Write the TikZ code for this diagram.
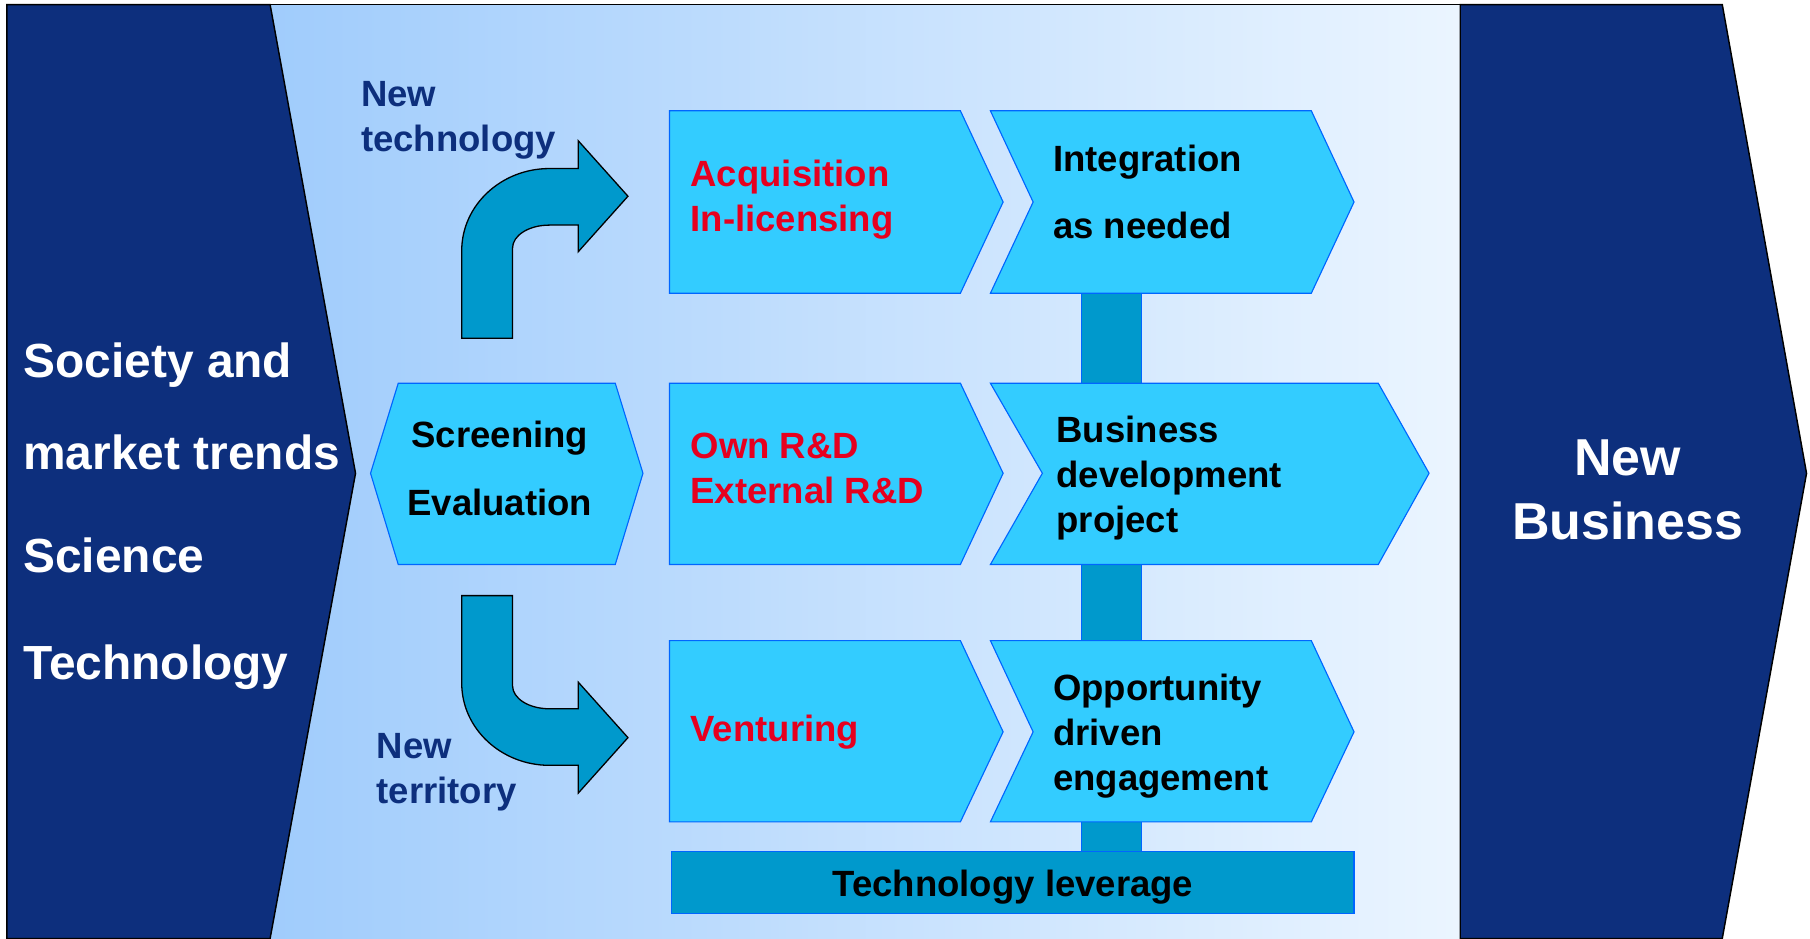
\documentclass[tikz,border=0pt]{standalone}
\usepackage{fontspec}
\setmainfont{Liberation Sans}
\definecolor{trendnavy}{RGB}{13, 47, 125}
\definecolor{stagecyan}{RGB}{51, 204, 255}
\definecolor{stageblue}{RGB}{0, 102, 255}
\definecolor{barcyan}{RGB}{0, 153, 204}
\definecolor{routered}{RGB}{230, 0, 30}
\definecolor{fadeleft}{RGB}{160, 204, 252}
\definecolor{faderight}{RGB}{235, 245, 255}
\usepackage{tikz}
\newcommand{\panelfont}{\fontsize{29.5}{56.2}\selectfont\bfseries}
\newcommand{\bizfont}{\fontsize{32}{39}\selectfont\bfseries}
\newcommand{\stagefont}{\fontsize{22.5}{27.6}\selectfont\bfseries}
\tikzset{
  panel/.style={draw=black, fill=trendnavy, line width=0.9pt},
  stagebox/.style={draw=stageblue, fill=stagecyan, line width=0.7pt},
  barbox/.style={draw=stageblue, fill=barcyan, line width=0.7pt},
  turnarrow/.style={draw=black, fill=barcyan, line width=0.8pt},
  stagetext/.style={font=\stagefont, anchor=base west, align=left, inner sep=0pt},
}

\begin{document}
\begin{tikzpicture}[x=0.025cm, y=-0.025cm]
  \useasboundingbox (0,0) rectangle (1568,812.6);

  % background band
  \shade[left color=fadeleft, right color=faderight] (234,4) rectangle (1265,813);
  \draw[line width=0.9pt] (6,4) -- (1265,4);

  % trend and business panels (text anchored on its last line)
  \draw[panel] (6,813) -- (6,4) -- (234,4) -- (308,410) -- (234,813) -- cycle;
  \draw[panel] (1265,813) -- (1265,4) -- (1492,4) -- (1565,410) -- (1492,813) -- cycle;
  \node[stagetext, font=\panelfont, text=white] (trends) at (20,589)
    {Society and\\market trends\\[7.5pt]Science\\[10pt]Technology};
  \node[font=\bizfont, text=white, anchor=base, align=center, inner sep=0pt] (newbiz) at (1410,467)
    {New\\Business};

  % spine and leverage bar
  \draw[barbox] (937,254) rectangle (989,738);
  \draw[barbox] (582,738) rectangle (1173,791);
  \node[font=\stagefont, anchor=base, inner sep=0pt] (leverage) at (877.5,777) {Technology leverage};

  % screening
  \draw[stagebox] (321,410) -- (345,332) -- (533,332) -- (557,410) -- (533,489) -- (345,489) -- cycle;
  \node[font=\stagefont, anchor=base, align=center, inner sep=0pt] (screen) at (433,447)
    {Screening\\[14.4pt]Evaluation};

  % turning arrows
  \draw[turnarrow] (400,293) -- (400,217) .. controls (400,178) and (434,146) .. (476,146)
    -- (501,146) -- (501,122) -- (544,170) -- (501,218) -- (501,195) -- (476,195)
    .. controls (458,195) and (444,204) .. (444,215) -- (444,293) -- cycle;
  \draw[turnarrow] (400,516) -- (400,592) .. controls (400,631) and (434,663) .. (476,663)
    -- (501,663) -- (501,687) -- (544,639) -- (501,591) -- (501,614) -- (476,614)
    .. controls (458,614) and (444,605) .. (444,594) -- (444,516) -- cycle;
  \node[stagetext, text=trendnavy] (newtech) at (312.6,131.5) {New\\technology};
  \node[stagetext, text=trendnavy] (newterr) at (326,696) {New\\territory};

  % row 1
  \draw[stagebox] (580,96) -- (832,96) -- (869,175) -- (832,254) -- (580,254) -- cycle;
  \draw[stagebox] (858,96) -- (1136,96) -- (1173,175) -- (1136,254) -- (858,254) -- (895,175) -- cycle;
  \node[stagetext, text=routered] (acquire) at (598,200.8) {Acquisition\\In-licensing};
  \node[stagetext] (integrate) at (912,206.5) {Integration\\[13.4pt]as needed};

  % row 2
  \draw[stagebox] (580,332) -- (832,332) -- (869,410) -- (832,489) -- (580,489) -- cycle;
  \draw[stagebox] (858,332) -- (1194,332) -- (1238,410) -- (1194,489) -- (858,489) -- (903,410) -- cycle;
  \node[stagetext, text=routered] (ownrd) at (598,436) {Own R\&D\\External R\&D};
  \node[stagetext] (bizdev) at (915,461) {Business\\development\\project};

  % row 3
  \draw[stagebox] (580,555) -- (832,555) -- (869,634) -- (832,712) -- (580,712) -- cycle;
  \draw[stagebox] (858,555) -- (1136,555) -- (1173,634) -- (1136,712) -- (858,712) -- (895,634) -- cycle;
  \node[stagetext, text=routered] (venture) at (598,642.7) {Venturing};
  \node[stagetext] (engage) at (912,684.6) {Opportunity\\driven\\engagement};
\end{tikzpicture}
\end{document}
